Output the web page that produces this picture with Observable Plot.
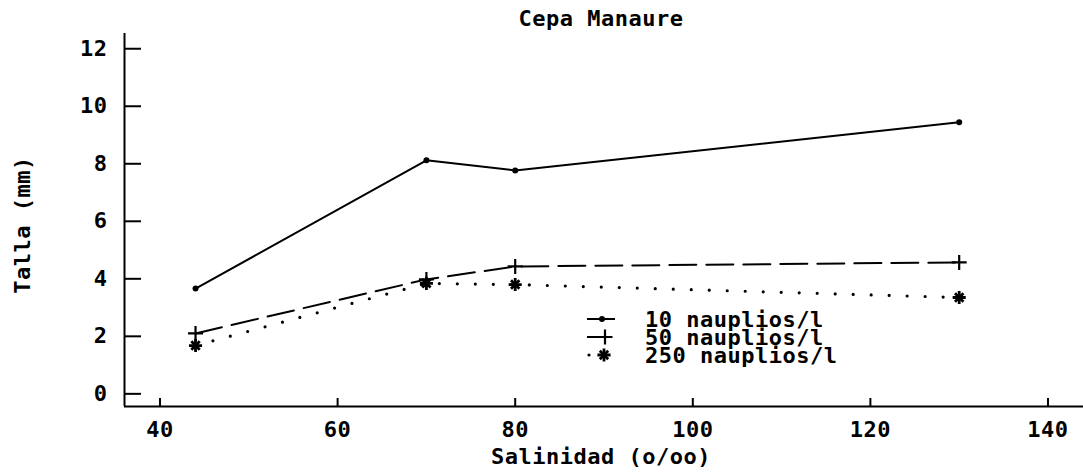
<!DOCTYPE html>
<html><head><meta charset="utf-8">
<script src="https://cdn.jsdelivr.net/npm/d3@7"></script>
<script src="https://cdn.jsdelivr.net/npm/@observablehq/plot@0.6"></script>
<style>
html,body{margin:0;padding:0;background:#fff;}
#wrap{position:relative;width:1083px;height:476px;overflow:hidden;}
#legend{position:absolute;left:0;top:0;pointer-events:none;}
</style></head><body><div id="wrap"></div>
<script>
const title = "Cepa Manaure";
const xLabel = "Salinidad (o/oo)";
const yLabel = "Talla (mm)";
const salinity = [44, 70, 80, 130];
const seriesNames = ["10 nauplios/l", "50 nauplios/l", "250 nauplios/l"];
const talla10 = [3.66, 8.12, 7.77, 9.44];
const talla50 = [2.1, 3.98, 4.43, 4.57];
const talla250 = [1.68, 3.84, 3.8, 3.35];
const xTicks = [40, 60, 80, 100, 120, 140];
const yTicks = [0, 2, 4, 6, 8, 10, 12];
const xDomain = [36, 144];
const yDomain = [-0.44, 12.53];

const FONT = "DejaVu Sans Mono";
const toRows = vals => salinity.map((x, i) => ({x, y: vals[i]}));
const r10 = toRows(talla10), r50 = toRows(talla50), r250 = toRows(talla250);

const chart = Plot.plot({
  width: 1083,
  height: 476,
  marginLeft: 124,
  marginRight: 0,
  marginTop: 33,
  marginBottom: 70,
  style: {fontFamily: FONT, fontWeight: "bold", fontSize: "22px", letterSpacing: "0.5px", color: "#000", background: "#fff"},
  x: {domain: xDomain},
  y: {domain: yDomain},
  marks: [
    Plot.ruleY([yDomain[0]], {stroke: "#000", strokeWidth: 2}),
    Plot.ruleX([xDomain[0]], {stroke: "#000", strokeWidth: 2}),
    Plot.axisX({ticks: xTicks, tickSize: -8, tickFormat: () => "", strokeWidth: 2, label: null}),
    Plot.axisX({ticks: xTicks, tickSize: 0, tickPadding: 15, label: null}),
    Plot.axisY({ticks: yTicks, tickSize: -17, tickFormat: () => "", strokeWidth: 2, label: null}),
    Plot.axisY({ticks: yTicks, tickSize: 0, tickPadding: 17, label: null}),
    Plot.text([title], {frameAnchor: "top", lineAnchor: "middle", dy: -15, dx: -3, text: d => d}),
    Plot.text([xLabel], {frameAnchor: "bottom", lineAnchor: "middle", dy: 50, dx: -3, text: d => d}),
    Plot.text([yLabel], {frameAnchor: "left", lineAnchor: "middle", textAnchor: "middle", dx: -102, dy: 5, rotate: -90, text: d => d}),
    Plot.line(r10, {x: "x", y: "y", stroke: "#000", strokeWidth: 2}),
    Plot.dot(r10, {x: "x", y: "y", r: 3, fill: "#000"}),
    Plot.line(r50, {x: "x", y: "y", stroke: "#000", strokeWidth: 2, strokeDasharray: "27,10"}),
    Plot.dot(r50, {x: "x", y: "y", symbol: "plus", r: 4.9, stroke: "#000", strokeWidth: 2.2}),
    Plot.line(r250, {x: "x", y: "y", stroke: "#000", strokeWidth: 3.2, strokeDasharray: "0,18", strokeLinecap: "round"}),
    Plot.dot(r250, {x: "x", y: "y", symbol: "plus", r: 4.3, stroke: "#000", strokeWidth: 2.8}),
    Plot.dot(r250, {x: "x", y: "y", symbol: "times", r: 3.9, stroke: "#000", strokeWidth: 2.8})
  ]
});
document.getElementById("wrap").appendChild(chart);

// Legend overlay
const leg = d3.select("#wrap").append("svg").attr("id", "legend")
  .attr("width", 1083).attr("height", 476);
const rowY = [319, 337, 355];
const g = leg.append("g");
g.append("line").attr("x1", 587).attr("x2", 615).attr("y1", rowY[0]).attr("y2", rowY[0]).attr("stroke", "#000").attr("stroke-width", 2);
g.append("circle").attr("cx", 602).attr("cy", rowY[0]).attr("r", 3).attr("fill", "#000");
g.append("line").attr("x1", 587).attr("x2", 606).attr("y1", rowY[1]).attr("y2", rowY[1]).attr("stroke", "#000").attr("stroke-width", 2);
g.append("path").attr("transform", `translate(605,${rowY[1]})`).attr("d", d3.symbol(d3.symbolPlus, Math.PI * 4.9 * 4.9)()).attr("fill", "none").attr("stroke", "#000").attr("stroke-width", 2.2);
g.append("circle").attr("cx", 589).attr("cy", rowY[2]).attr("r", 1.6).attr("fill", "#000");
g.append("path").attr("transform", `translate(604,${rowY[2]})`).attr("d", d3.symbol(d3.symbolPlus, Math.PI * 4.3 * 4.3)()).attr("fill", "none").attr("stroke", "#000").attr("stroke-width", 2.8);
g.append("path").attr("transform", `translate(604,${rowY[2]})`).attr("d", d3.symbol(d3.symbolTimes, Math.PI * 3.9 * 3.9)()).attr("fill", "none").attr("stroke", "#000").attr("stroke-width", 2.8);
g.selectAll("text.lab").data(seriesNames).join("text").attr("class", "lab")
  .attr("x", 645).attr("y", (d, i) => rowY[i]).attr("dy", "0.36em")
  .attr("font-family", FONT).attr("font-weight", "bold").attr("font-size", 22).attr("letter-spacing", "0.5px")
  .text(d => d);
</script>
</body></html>
